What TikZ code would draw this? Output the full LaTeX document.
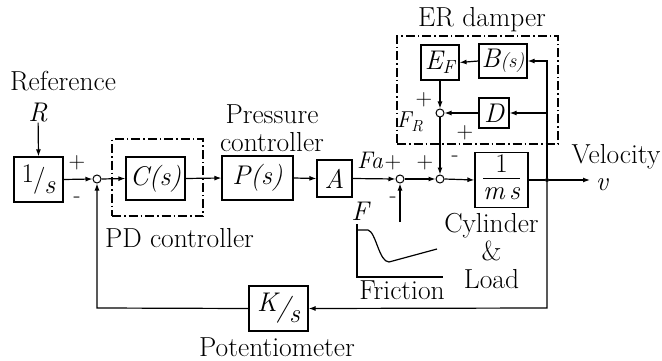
\documentclass[tikz,border=0pt]{standalone}
\usetikzlibrary{arrows.meta,positioning}
\newcommand\slashfrac[2]{\raisebox{5pt}{#1}\kern-1pt/\kern-1pt\raisebox{-6pt}{#2}}
\tikzset{
  blk/.style={
    draw, line width=1.2pt, inner sep=0pt,
    align=center, font=\fontsize{27}{29}\selectfont\itshape
  },
  sumpt/.style={circle, draw, line width=1pt, minimum size=8pt, inner sep=0pt},
  group/.style={draw, dash pattern=on 9pt off 3pt on 1.5pt off 3pt, line width=1.1pt, inner sep=0pt},
  lbl/.style={font=\fontsize{27.5}{28}\selectfont, align=center, inner sep=0pt},
  sgn/.style={font=\fontsize{23}{23}\selectfont, inner sep=0pt},
  arrow/.style={-{Latex[length=7pt,width=5pt]}, line width=1.2pt},
  wire/.style={line width=1.2pt}
}
\begin{document}
\begin{tikzpicture}[x=1pt, y=-1pt]
  \useasboundingbox (0,0) rectangle (662,361);
  % groups
  \node[group, minimum width=91pt, minimum height=77pt] (pdgrp) at (157.5,177.5) {};
  \node[group, minimum width=161pt, minimum height=108pt] (ergrp) at (477.5,90) {};
  % forward path
  \node[blk, minimum width=49pt, minimum height=45pt] (integ) at (38.5,179.5) {\upshape\slashfrac{1}{\itshape s}};
  \node[sumpt] (suma) at (97,179) {};
  \node[blk, minimum width=59pt, minimum height=43pt] (cs) at (155.5,178.5) {C(s)};
  \node[blk, minimum width=71pt, minimum height=44pt] (ps) at (257.5,178) {P(s)};
  \node[blk, minimum width=35pt, minimum height=37pt] (ab) at (334.5,178.5) {A};
  \node[sumpt] (sumb) at (400,179) {};
  \node[sumpt] (sumc) at (440,179) {};
  \node[blk, minimum width=53pt, minimum height=54pt] (plant) at (501.5,180)
    {\begin{tabular}{@{}c@{}}\upshape 1\\[-3pt]\hline\itshape m\,s\end{tabular}};
  \node[circle, fill, minimum size=4pt, inner sep=0pt] (dot) at (547,180) {};
  \coordinate (outv) at (590,180);
  % ER damper
  \node[blk, minimum width=38pt, minimum height=35pt] (ef) at (440,62.5) {E\textsubscript{F}};
  \node[blk, minimum width=48pt, minimum height=34pt] (bs) at (503,61) {B{\fontsize{20}{20}\selectfont(s)}};
  \node[blk, minimum width=30pt, minimum height=30pt] (dd) at (494,113) {D};
  \node[sumpt] (sumr) at (440,113) {};
  \coordinate (tapd) at (dot |- dd);
  % feedback
  \node[blk, minimum width=59pt, minimum height=45pt] (ks) at (278.5,308.5) {\slashfrac{K}{s}};
  \coordinate (fbr) at (547,308);
  \coordinate (fbl) at (97,308);
  \coordinate (fric) at (400,222);
  \node[lbl, font=\fontsize{27}{27}\selectfont\itshape] (rin) at (38,113) {R};
  % labels
  \node[lbl] (reflbl) at (63,81) {Reference};
  \node[lbl] (pdlbl) at (179.5,238) {PD controller};
  \node[lbl] (preslbl) at (272,128) {Pressure\\controller};
  \node[lbl] (erlbl) at (482,20) {ER damper};
  \node[lbl, font=\fontsize{24}{24}\selectfont\itshape] (falbl) at (370,160) {Fa};
  \node[lbl] (vellbl) at (616,157) {Velocity};
  \node[lbl, font=\fontsize{27}{27}\selectfont\itshape] (vlbl) at (602,185) {v};
  \node[lbl, font=\fontsize{27}{27}\selectfont\itshape] (flbl) at (360,211) {F};
  \node[lbl] (friclbl) at (402,290) {Friction};
  \node[lbl] (cyllbl) at (491.5,251) {Cylinder\\\&\\Load};
  \node[lbl] (potlbl) at (277,347) {Potentiometer};
  \node[lbl, font=\fontsize{23}{23}\selectfont\itshape] (frlbl) at (410,122) {F\textsubscript{R}};
  % signs
  \node[sgn] at (77,163) {+};
  \node[sgn] at (77,200) {-};
  \node[sgn] at (393,163) {+};
  \node[sgn] at (393,200) {-};
  \node[sgn] at (425,163) {+};
  \node[sgn] at (455,159) {-};
  \node[sgn] at (424,100) {+};
  \node[sgn] at (465,133) {+};
  % connectors
  \draw[arrow] (rin) -- (integ.north);
  \draw[arrow] (integ.east) -- (suma.west);
  \draw[arrow] (suma.east) -- (cs.west);
  \draw[arrow] (cs.east) -- (ps.west);
  \draw[arrow] (ps.east) -- (ab.west);
  \draw[arrow] (ab.east) -- (sumb.west);
  \draw[arrow] (sumb.east) -- (sumc.west);
  \draw[arrow] (sumc.east) -- (plant.west);
  \draw[wire] (plant.east) -- (dot);
  \draw[arrow] (dot) -- (outv);
  \draw[arrow] (dot) |- (bs.east);
  \draw[arrow] (tapd) -- (dd.east);
  \draw[arrow] (bs.west) -- (ef.east);
  \draw[arrow] (dd.west) -- (sumr.east);
  \draw[arrow] (ef.south) -- (sumr.north);
  \draw[arrow] (sumr.south) -- (sumc.north);
  \draw[arrow] (dot) -- (fbr) -- (ks.east);
  \draw[arrow] (ks.west) -- (fbl) -- (suma.south);
  \draw[arrow] (fric) -- (sumb.south);
  % friction curve
  \draw[wire] (357,224) -- (357,277) -- (443,277);
  \draw[wire] (357,230) -- (368,230) .. controls (376,232) and (379,262) .. (389,262) -- (437,249);
\end{tikzpicture}
\end{document}
